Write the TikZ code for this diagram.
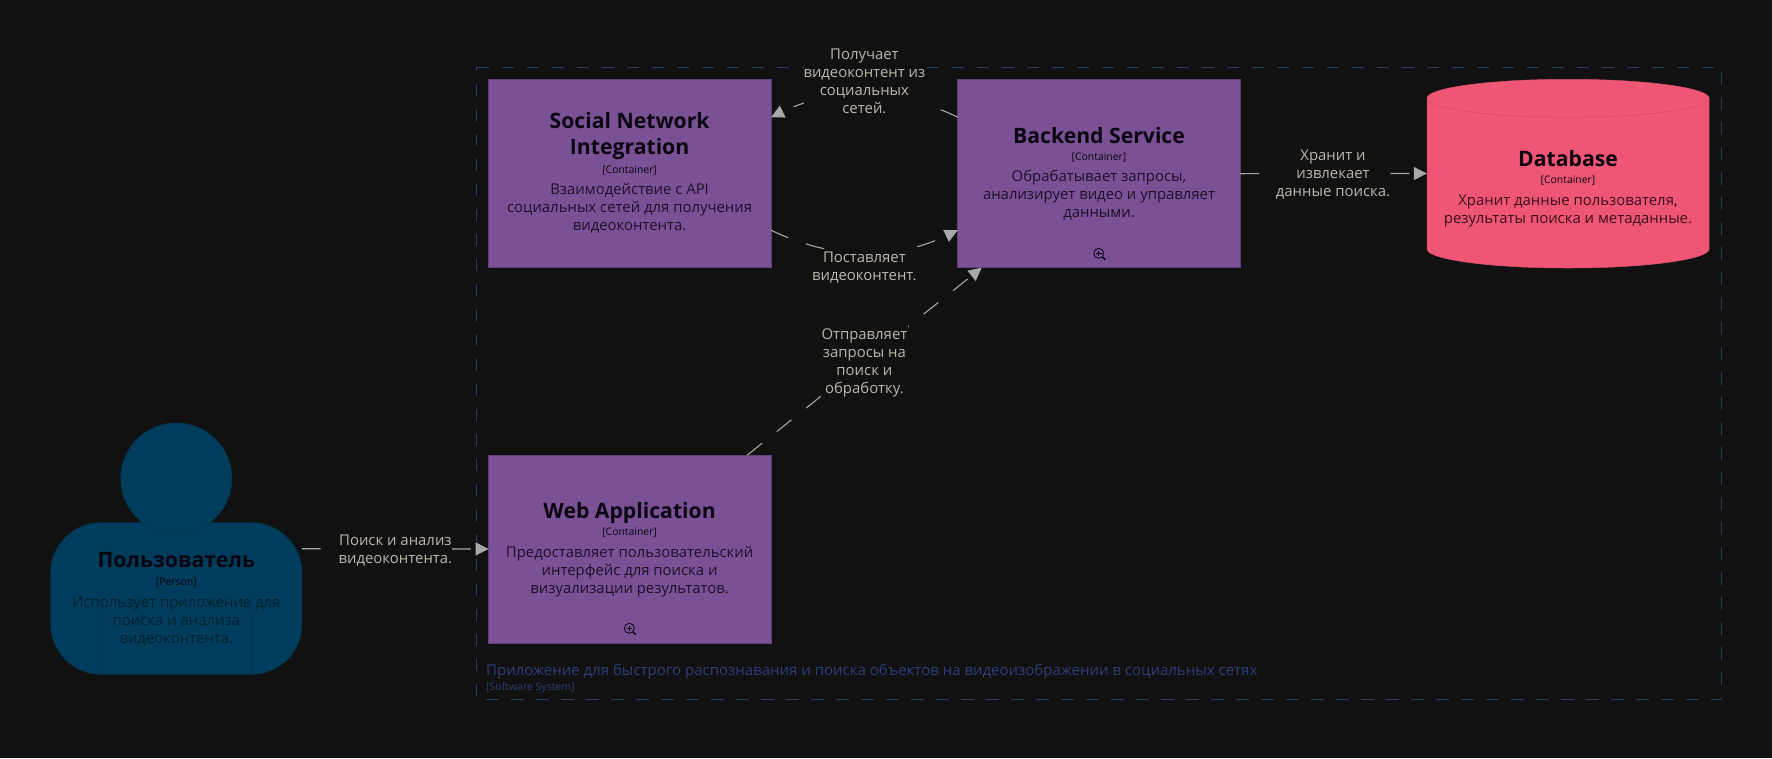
\documentclass[tikz,border=0pt]{standalone}
\usepackage{fontspec}
\setmainfont{Open Sans}
\usetikzlibrary{arrows.meta,calc}
\definecolor{bgc}{HTML}{111111}
\definecolor{persc}{HTML}{003D5C}
\definecolor{persl}{HTML}{003652}
\definecolor{contc}{HTML}{7A5195}
\definecolor{contl}{HTML}{5F3F74}
\definecolor{dbc}{HTML}{EF5675}
\definecolor{dbl}{HTML}{D94F6B}
\definecolor{bndc}{HTML}{2B3A5E}
\definecolor{bndt}{HTML}{2D3E78}
\definecolor{edgec}{HTML}{A8A8A8}
\definecolor{edget}{HTML}{BDB6AD}
\definecolor{inkc}{HTML}{0A0410}
\definecolor{dscw}{HTML}{1E1028}
\definecolor{dscp}{HTML}{06202F}
\definecolor{dscd}{HTML}{3A0F1C}
\tikzset{
  struts/.style={execute at begin node=\strut,execute at end node=\strut},
  boxnode/.style={draw=contl,line width=1pt,fill=contc,minimum width=282.5pt,minimum height=188pt,inner sep=0pt,outer sep=0pt},
  ttl/.style={font=\fontsize{21.2}{26}\selectfont\bfseries,text=inkc,align=center,inner sep=0pt,struts},
  meta/.style={font=\fontsize{10.4}{12}\selectfont,text=inkc,align=center,inner sep=0pt,struts},
  dsc/.style={font=\fontsize{14.9}{18}\selectfont,text=dscw,align=center,inner sep=0pt,struts},
  edgetext/.style={font=\fontsize{14.9}{18}\selectfont,text=edget,align=center,fill=bgc,inner xsep=0pt,inner ysep=3pt,struts},
  rel/.style={draw=edgec,line width=1.1pt,dash pattern=on 18.8pt off 18.8pt,-{Triangle[length=13pt,width=13pt,fill=edgec]}},
  bnd/.style={draw=bndc,line width=1pt,dash pattern=on 12.5pt off 12.5pt},
}
\newcommand{\zoomicon}[1]{\begin{scope}[shift={(#1)},draw=inkc,line width=.8pt]
 \draw (0,0) circle[radius=5]; \draw (0,-2.8)--(0,2.8) (-2.8,0)--(2.8,0);
 \draw[line width=1.4pt] (3.7,3.7)--(6.6,6.2);\end{scope}}
\begin{document}
\begin{tikzpicture}[x=1pt,y=-1pt]
\useasboundingbox (0,0) rectangle (1772,758);
\fill[bgc] (0,0) rectangle (1772,758);
% boundary
\node[minimum width=1245pt,minimum height=632pt,inner sep=0pt,outer sep=0pt] (sys) at (1099.1,383.3) {};
\draw[bnd] (sys.north west) -- (sys.north east) -- (sys.south east) -- (sys.south west) -- cycle;
\node[anchor=base west,inner sep=0pt,font=\fontsize{15}{18}\selectfont,text=bndt] (sysname) at (486,675) {Приложение для быстрого распознавания и поиска объектов на видеоизображении в социальных сетях};
\node[anchor=base west,inner sep=0pt,font=\fontsize{10.5}{12}\selectfont,text=bndt] (systype) at (486,690) {[Software System]};
% person
\node[inner sep=0pt,minimum width=250.5pt,minimum height=151pt] (user) at (176.3,598.5) {};
\fill[persc,draw=persl,line width=.8pt,rounded corners=50pt] (user.south west) rectangle (user.north east);
\draw[persl,line width=.5pt] (101.5,591)--(101.5,674) (251,591)--(251,674);
\node[circle,fill=persc,draw=persl,line width=.8pt,minimum size=111pt,inner sep=0pt] (head) at (176.3,478.5) {};
\node[ttl] (usert) at (176.3,562.5) {Пользователь};
\node[meta] (userm) at (176.3,582.6) {[Person]};
\node[dsc,text=dscp] (userd) at (176.3,622.7) {Использует приложение для\\поиска и анализа\\видеоконтента.};
% containers
\node[boxnode] (web) at (629.8,549) {};
\node[ttl] (webt) at (629.6,512.8) {Web Application};
\node[meta] (webm) at (629.6,532.6) {[Container]};
\node[dsc] (webd) at (629.6,572.7) {Предоставляет пользовательский\\интерфейс для поиска и\\визуализации результатов.};
\zoomicon{629.3,628.3}
\node[boxnode] (soc) at (629.8,173.7) {};
\node[ttl] (soct) at (629.6,137.8) {Social Network\\Integration};
\node[meta] (socm) at (629.6,170.6) {[Container]};
\node[dsc] (socd) at (629.6,209.4) {Взаимодействие с API\\социальных сетей для получения\\видеоконтента.};
\node[boxnode] (back) at (1099,173.7) {};
\node[ttl] (backt) at (1099,138.3) {Backend Service};
\node[meta] (backm) at (1099,157.6) {[Container]};
\node[dsc] (backd) at (1099,196.1) {Обрабатывает запросы,\\анализирует видео и управляет\\данными.};
\zoomicon{1098.7,253.3}
% database
\node[inner sep=0pt,minimum width=282pt,minimum height=188.5pt] (db) at (1568,173.5) {};
\fill[dbc,draw=dbl,line width=.5pt] (1427,98.3) arc[start angle=180,end angle=360,x radius=141,y radius=19] -- (1709,249) arc[start angle=0,end angle=180,x radius=141,y radius=19] -- cycle;
\draw[dbl,line width=.8pt] (1427,98.3) arc[start angle=180,end angle=0,x radius=141,y radius=19];
\node[ttl] (dbt) at (1568,160.8) {Database};
\node[meta] (dbm) at (1568,180.9) {[Container]};
\node[dsc,text=dscd] (dbd) at (1568,212.1) {Хранит данные пользователя,\\результаты поиска и метаданные.};
% connectors
\draw[rel] ([yshift=49.8pt]user.east) -- (web.west);
\draw[rel] ([xshift=117.6pt]web.north) -- ([xshift=-117.3pt]back.south);
\draw[rel] ([yshift=-56.5pt]soc.east) .. controls +(62.3,30) and +(-62.3,30) .. ([yshift=-56.5pt]back.west);
\draw[rel] ([yshift=56.5pt]back.west) .. controls +(-62.3,-30) and +(62.3,-30) .. ([yshift=56.5pt]soc.east);
\draw[rel] (back.east) -- (db.west);
% labels
\node[edgetext] (l1) at (395.4,551.4) {Поиск и анализ\\видеоконтента.};
\node[edgetext,inner xsep=1pt] (l2) at (864.4,363.4) {Отправляет\\запросы на\\поиск и\\обработку.};
\node[edgetext] (l3) at (864.4,268.7) {Поставляет\\видеоконтент.};
\node[edgetext] (l4) at (864.4,83.4) {Получает\\видеоконтент из\\социальных\\сетей.};
\node[edgetext] (l5) at (1333,176.1) {Хранит и\\извлекает\\данные поиска.};
\end{tikzpicture}
\end{document}
